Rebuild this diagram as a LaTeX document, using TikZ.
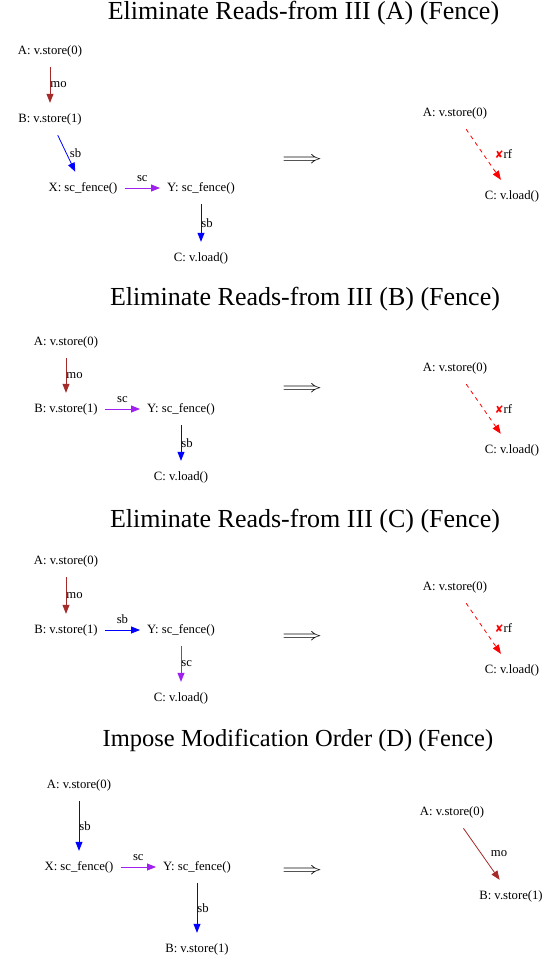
\documentclass[tikz,border=0pt]{standalone}
\usepackage{fontspec}
\usepackage{graphicx}
\setmainfont{Liberation Serif}
\newfontfamily\symfont{DejaVu Sans}
\newfontfamily\lmmath{latinmodern-math.otf}
\usetikzlibrary{arrows.meta}
\definecolor{mobrown}{HTML}{A52A2A}
\definecolor{scpurple}{HTML}{A020F0}
\tikzset{
  ev/.style={font=\fontsize{12.7}{14}\selectfont, text height=9pt, text depth=3pt, inner xsep=7pt, inner ysep=10pt},
  ttl/.style={font=\fontsize{26}{30}\selectfont, anchor=base, inner sep=0pt},
  ttlD/.style={font=\fontsize{24.5}{28}\selectfont, anchor=base, inner sep=0pt},
  lbl/.style={font=\fontsize{12.7}{14}\selectfont, inner sep=0pt},
  imp/.style={inner sep=0pt},
  arr/.style={-{Triangle[length=9pt,width=7pt]}, line width=0.8pt},
  moedge/.style={arr, draw=mobrown},
  sbedge/.style={arr, draw=blue},
  scedge/.style={arr, draw=scpurple},
  rfedge/.style={arr, draw=red, dash pattern=on 4pt off 4pt},
  vlab/.style={lbl, midway, anchor=west},
  hlab/.style={lbl, midway, anchor=base, yshift=6.5pt},
  dlab/.style={lbl, midway, anchor=west, xshift=3pt},
  rlab/.style={lbl, midway, anchor=west, xshift=11pt},
}
\newcommand{\nocross}{{\symfont\fontsize{10.5}{12}\selectfont\color{red}✘}}
\newcommand{\impl}{\resizebox{40pt}{9pt}{\lmmath ⟹}}
\begin{document}
\begin{tikzpicture}[x=1pt,y=-1pt]
\useasboundingbox[fill=white] (0,0) rectangle (545,961);

% ---------- Panel A ----------
\node[ttl] (t1) at (303.5,19.5) {Eliminate Reads-from III (A) (Fence)};
\node[ev] (a1) at (50,51) {A: v.store(0)};
\node[ev] (b1) at (50,119) {B: v.store(1)};
\node[ev] (x1) at (83,188) {X: sc\_fence()};
\node[ev] (y1) at (201,188) {Y: sc\_fence()};
\node[ev] (c1) at (201,258) {C: v.load()};
\draw[moedge] (a1) -- node[vlab]{mo} (b1);
\draw[sbedge] (b1) -- node[dlab]{sb} (x1);
\draw[scedge] (x1) -- node[hlab]{sc} (y1);
\draw[sbedge] (y1) -- node[vlab]{sb} (c1);
\node[imp] (i1) at (303,159.5) {\impl};
\node[ev] (ra1) at (455,113) {A: v.store(0)};
\node[ev] (rc1) at (512,196) {C: v.load()};
\draw[rfedge] (ra1) -- node[rlab]{\nocross rf} (rc1);

% ---------- Panel B ----------
\node[ttl] (t2) at (305,305.5) {Eliminate Reads-from III (B) (Fence)};
\node[ev] (a2) at (66,342) {A: v.store(0)};
\node[ev] (b2) at (66,409) {B: v.store(1)};
\node[ev] (y2) at (181,409) {Y: sc\_fence()};
\node[ev] (c2) at (181,477) {C: v.load()};
\draw[moedge] (a2) -- node[vlab]{mo} (b2);
\draw[scedge] (b2) -- node[hlab]{sc} (y2);
\draw[sbedge] (y2) -- node[vlab]{sb} (c2);
\node[imp] (i2) at (303,388) {\impl};
\node[ev] (ra2) at (455,368) {A: v.store(0)};
\node[ev] (rc2) at (512,450) {C: v.load()};
\draw[rfedge] (ra2) -- node[rlab]{\nocross rf} (rc2);

% ---------- Panel C ----------
\node[ttl] (t3) at (305,527.5) {Eliminate Reads-from III (C) (Fence)};
\node[ev] (a3) at (66,561) {A: v.store(0)};
\node[ev] (b3) at (66,630) {B: v.store(1)};
\node[ev] (y3) at (181,630) {Y: sc\_fence()};
\node[ev] (c3) at (181,698) {C: v.load()};
\draw[moedge] (a3) -- node[vlab]{mo} (b3);
\draw[sbedge] (b3) -- node[hlab]{sb} (y3);
\draw[scedge] (y3) -- node[vlab]{sc} (c3);
\node[imp] (i3) at (303,636) {\impl};
\node[ev] (ra3) at (455,587) {A: v.store(0)};
\node[ev] (rc3) at (512,670) {C: v.load()};
\draw[rfedge] (ra3) -- node[rlab]{\nocross rf} (rc3);

% ---------- Panel D ----------
\node[ttlD] (t4) at (298,746) {Impose Modification Order (D) (Fence)};
\node[ev] (a4) at (79,785) {A: v.store(0)};
\node[ev] (x4) at (79,867) {X: sc\_fence()};
\node[ev] (y4) at (197,867) {Y: sc\_fence()};
\node[ev] (b4) at (197,949) {B: v.store(1)};
\draw[sbedge] (a4) -- node[vlab]{sb} (x4);
\draw[scedge] (x4) -- node[hlab]{sc} (y4);
\draw[sbedge] (y4) -- node[vlab]{sb} (b4);
\node[imp] (i4) at (303,870) {\impl};
\node[ev] (ra4) at (452,812) {A: v.store(0)};
\node[ev] (rb4) at (511,896) {B: v.store(1)};
\draw[moedge] (ra4) -- node[lbl, midway, anchor=west, xshift=9pt]{mo} (rb4);
\end{tikzpicture}
\end{document}
